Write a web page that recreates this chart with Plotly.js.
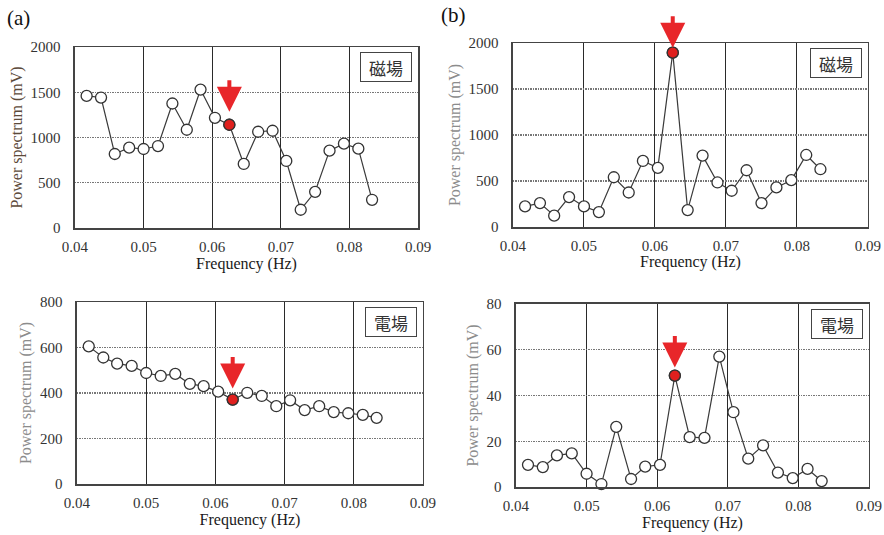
<!DOCTYPE html>
<html>
<head>
<meta charset="utf-8">
<script src="https://cdn.plot.ly/plotly-3.0.1.min.js"></script>
<style>html,body{margin:0;padding:0;background:#fff;}#chart{width:884px;height:535px;}</style>
</head>
<body>
<div id="chart"></div>
<script>
// Frequency bins (Hz)
const freq = [0.0417, 0.0438, 0.0458, 0.0479, 0.0500, 0.0521, 0.0542, 0.0563, 0.0583, 0.0604,
              0.0625, 0.0646, 0.0667, 0.0688, 0.0708, 0.0729, 0.0750, 0.0771, 0.0792, 0.0813, 0.0833];
// (a) magnetic field
const magA = [1460, 1442, 818, 888, 873, 906, 1376, 1086, 1530, 1218,
              1141, 708, 1064, 1075, 741, 202, 400, 855, 932, 877, 312];
// (b) magnetic field
const magB = [224, 260, 123, 325, 224, 162, 541, 375, 718, 643,
              1895, 184, 776, 484, 394, 617, 260, 430, 509, 783, 628];
// (a) electric field
const eleA = [605, 556, 529, 519, 488, 475, 484, 440, 430, 406,
              371, 401, 387, 342, 368, 325, 342, 316, 311, 304, 291];
// (b) electric field
const eleB = [9.7, 8.7, 13.8, 14.7, 5.8, 1.3, 26.3, 3.5, 8.9, 9.7,
              48.7, 21.8, 21.5, 57, 32.7, 12.4, 18.2, 6.3, 3.9, 7.9, 2.6];
const highlightIndex = 10;
const xTicks = [0.04, 0.05, 0.06, 0.07, 0.08, 0.09];
const xTickText = ['0.04', '0.05', '0.06', '0.07', '0.08', '0.09'];
const panelLabels = ['(a)', '(b)'];
const fieldLabels = ['磁場', '電場'];
const yRanges = [[0, 2000], [0, 2000], [0, 800], [0, 80]];
const yDticks = [500, 500, 200, 20];
const xTitle = 'Frequency (Hz)';
const yTitle = 'Power spectrum (mV)';

const panels = [
  {y: magA, ax: '', dom: [[0.0848, 0.4729], [0.5738, 0.9121]], label: fieldLabels[0], ytc: '#5c4a3a', gap: 13},
  {y: magB, ax: '2', dom: [[0.5803, 0.9819], [0.5757, 0.9196]], label: fieldLabels[0], ytc: '#8c8c8c', gap: 5},
  {y: eleA, ax: '3', dom: [[0.0871, 0.4785], [0.0953, 0.4355]], label: fieldLabels[1], ytc: '#8c8c8c', gap: 11},
  {y: eleB, ax: '4', dom: [[0.5837, 0.9830], [0.0897, 0.4318]], label: fieldLabels[1], ytc: '#8c8c8c', gap: 8}
];

const serif = 'Liberation Serif, Times New Roman, serif';
const traces = [];
const layout = {
  width: 884, height: 535,
  margin: {l: 0, r: 0, t: 0, b: 0},
  paper_bgcolor: '#fff', plot_bgcolor: '#fff',
  showlegend: false,
  annotations: []
};

panels.forEach((p, i) => {
  const xa = 'x' + p.ax, ya = 'y' + p.ax;
  traces.push({
    x: freq, y: p.y, xaxis: xa, yaxis: ya, type: 'scatter', mode: 'lines+markers',
    line: {color: '#3a3a3a', width: 1.2},
    marker: {size: 11, color: '#fff', line: {color: '#333', width: 1.3}},
    cliponaxis: false, hoverinfo: 'x+y'
  });
  traces.push({
    x: [freq[highlightIndex]], y: [p.y[highlightIndex]], xaxis: xa, yaxis: ya,
    type: 'scatter', mode: 'markers',
    marker: {size: 11, color: '#e0201e', line: {color: '#333', width: 1.3}},
    cliponaxis: false, hoverinfo: 'x+y'
  });
  layout['xaxis' + p.ax] = {
    domain: p.dom[0], anchor: ya, range: [0.04, 0.09],
    tickvals: xTicks, ticktext: xTickText, ticklabeloverflow: 'allow',
    showgrid: true, gridcolor: '#2a2a2a', gridwidth: 1,
    showline: true, linecolor: '#444', linewidth: 1.5, mirror: true,
    ticks: '', ticklabelstandoff: 4,
    tickfont: {family: serif, size: 15, color: '#333'},
    zeroline: false, automargin: false,
    title: {text: xTitle, font: {family: serif, size: 16, color: '#1a1a1a'}, standoff: 3}
  };
  layout['yaxis' + p.ax] = {
    domain: p.dom[1], anchor: xa, range: yRanges[i], dtick: yDticks[i], tick0: 0,
    showgrid: true, gridcolor: '#777', gridwidth: 1.2, griddash: '1.5px,1px',
    showline: true, linecolor: '#444', linewidth: 1.5, mirror: true,
    ticks: '', ticklabelstandoff: 10,
    tickfont: {family: serif, size: 15, color: '#333'},
    zeroline: false, automargin: false,
    title: {text: yTitle, font: {family: serif, size: 16, color: p.ytc}, standoff: 4}
  };
  // field label box
  layout.annotations.push({
    xref: xa + ' domain', yref: ya + ' domain', x: 1, y: 1, xanchor: 'right', yanchor: 'top',
    xshift: -6, yshift: -5, text: p.label, showarrow: false,
    font: {family: 'Noto Sans CJK JP', size: 17, color: '#333'},
    bordercolor: '#444', borderwidth: 1, borderpad: 2, bgcolor: '#fff',
    width: 46, height: 24
  });
  // red arrow pointing at highlighted bin
  layout.annotations.push({
    xref: xa, yref: ya, x: freq[highlightIndex], y: p.y[highlightIndex],
    text: '', showarrow: true, arrowhead: 2, arrowsize: 1.25, arrowwidth: 4,
    arrowcolor: '#e8262a', ax: 0, ay: -(33 + p.gap), standoff: p.gap
  });
});

layout.annotations.push({
  xref: 'paper', yref: 'paper', x: 5 / 884, y: 1 - 18 / 535, xanchor: 'left', yanchor: 'middle',
  text: panelLabels[0], showarrow: false, font: {family: serif, size: 21, color: '#111'}
});
layout.annotations.push({
  xref: 'paper', yref: 'paper', x: 439 / 884, y: 1 - 15 / 535, xanchor: 'left', yanchor: 'middle',
  text: panelLabels[1], showarrow: false, font: {family: serif, size: 21, color: '#111'}
});

Plotly.newPlot('chart', traces, layout, {displayModeBar: false, staticPlot: true});
</script>
</body>
</html>
